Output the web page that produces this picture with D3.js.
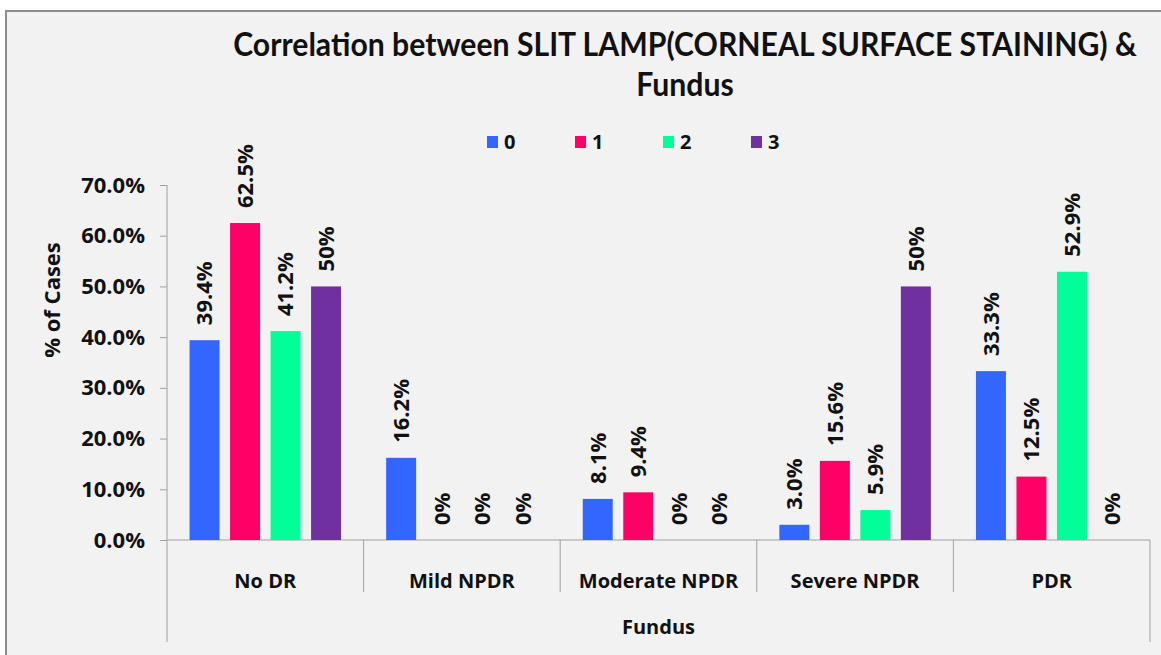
<!DOCTYPE html>
<html>
<head>
<meta charset="utf-8">
<script src="https://cdn.jsdelivr.net/npm/d3@7"></script>
<style>
  body { margin: 0; background: #fff; }
  text { font-family: "Open Sans", "Noto Sans", sans-serif; font-weight: bold; fill: #111; }
  text.title { font-family: Lato, "Open Sans", sans-serif; }
</style>
</head>
<body>
<svg id="chart" width="1161" height="655"></svg>
<script>
// data
const categories = ["No DR", "Mild NPDR", "Moderate NPDR", "Severe NPDR", "PDR"];
const seriesNames = ["0", "1", "2", "3"];
const series0 = [39.4, 16.2, 8.1, 3.0, 33.3];
const series1 = [62.5, 0, 9.4, 15.6, 12.5];
const series2 = [41.2, 0, 0, 5.9, 52.9];
const series3 = [50, 0, 0, 50, 0];
const labels0 = ["39.4%", "16.2%", "8.1%", "3.0%", "33.3%"];
const labels1 = ["62.5%", "0%", "9.4%", "15.6%", "12.5%"];
const labels2 = ["41.2%", "0%", "0%", "5.9%", "52.9%"];
const labels3 = ["50%", "0%", "0%", "50%", "0%"];
const yTicks = [0, 10, 20, 30, 40, 50, 60, 70];
const colors = ["#3366ff", "#ff0066", "#00ff99", "#7030a0"];

const allSeries = [series0, series1, series2, series3];
const allLabels = [labels0, labels1, labels2, labels3];

const svg = d3.select("#chart");

// chart area frame (only top and left edges are in the picture)
svg.append("rect")
  .attr("x", 6).attr("y", 11)
  .attr("width", 1170).attr("height", 660)
  .attr("fill", "#f2f2f2")
  .attr("stroke", "#8c8c8c")
  .attr("stroke-width", 2);

const plotLeft = 167, plotRight = 1150, base = 540, plotTop = 185;

const x0 = d3.scaleBand().domain(categories).range([plotLeft, plotRight]).padding(0);
const x1 = d3.scaleBand().domain(seriesNames).range([0, x0.bandwidth()])
  .paddingInner(0.26).paddingOuter(0.557);
const y = d3.scaleLinear().domain([0, 70]).range([base, plotTop]);

// title on two lines, squeezed sideways to look like the narrow original face
const t1 = svg.append("text")
  .attr("class", "title")
  .attr("text-anchor", "middle")
  .style("font-size", "33px")
  .text("Correlation between SLIT LAMP(CORNEAL SURFACE STAINING) &");
const k = 904 / t1.node().getComputedTextLength();
t1.attr("transform", `translate(685,56) scale(${k},1)`);
svg.append("text")
  .attr("class", "title")
  .attr("text-anchor", "middle")
  .attr("transform", `translate(685,96) scale(${k},1)`)
  .style("font-size", "33px")
  .text("Fundus");

// legend
const legend = svg.append("g").selectAll("g")
  .data(seriesNames)
  .join("g")
  .attr("transform", (d, i) => `translate(${487 + i * 88},136)`);
legend.append("rect")
  .attr("width", 11).attr("height", 12)
  .attr("fill", (d, i) => colors[i]);
legend.append("text")
  .attr("x", 17).attr("y", 13)
  .style("font-size", "20px")
  .text(d => d);

// y axis
const yAxis = svg.append("g")
  .attr("transform", `translate(${plotLeft},0)`)
  .call(d3.axisLeft(y).tickValues(yTicks).tickSize(7).tickPadding(15)
    .tickFormat(d => d.toFixed(1) + "%"));
yAxis.select(".domain").remove();
yAxis.selectAll(".tick line").attr("stroke", "#a0a0a0");
yAxis.selectAll(".tick text")
  .style("font-size", "22px")
  .attr("fill", "#111");
yAxis.attr("font-family", null).attr("font-size", null);

svg.append("text")
  .attr("transform", "translate(60,300) rotate(-90)")
  .attr("text-anchor", "middle")
  .style("font-size", "22px")
  .text("% of Cases");

// axis lines
const axisColor = "#a0a0a0";
svg.append("line")
  .attr("x1", plotLeft).attr("x2", plotLeft).attr("y1", y(70)).attr("y2", 642)
  .attr("stroke", axisColor);
svg.append("line")
  .attr("x1", plotLeft).attr("x2", plotRight).attr("y1", base).attr("y2", base)
  .attr("stroke", axisColor);
svg.append("line")
  .attr("x1", plotRight).attr("x2", plotRight).attr("y1", base).attr("y2", 642)
  .attr("stroke", axisColor);
svg.append("g").selectAll("line")
  .data(categories.slice(1))
  .join("line")
  .attr("x1", d => x0(d)).attr("x2", d => x0(d))
  .attr("y1", base).attr("y2", 592)
  .attr("stroke", axisColor);

svg.append("g").selectAll("text")
  .data(categories)
  .join("text")
  .attr("x", d => x0(d) + x0.bandwidth() / 2)
  .attr("y", 588)
  .attr("text-anchor", "middle")
  .style("font-size", "20px")
  .text(d => d);

svg.append("text")
  .attr("x", (plotLeft + plotRight) / 2).attr("y", 634)
  .attr("text-anchor", "middle")
  .style("font-size", "20px")
  .text("Fundus");

// bars
const groups = svg.append("g").selectAll("g")
  .data(categories)
  .join("g")
  .attr("transform", d => `translate(${x0(d)},0)`);

const cells = groups.selectAll("g")
  .data((c, ci) => seriesNames.map((s, si) => ({
    s: s, i: si, v: allSeries[si][ci], label: allLabels[si][ci]
  })))
  .join("g");

cells.append("rect")
  .attr("x", d => x1(d.s))
  .attr("y", d => y(d.v))
  .attr("width", x1.bandwidth())
  .attr("height", d => base - y(d.v))
  .attr("fill", d => colors[d.i]);

cells.append("text")
  .attr("transform", d => `translate(${x1(d.s) + x1.bandwidth() / 2},${y(d.v) - 15}) rotate(-90)`)
  .attr("dy", "0.36em")
  .style("font-size", "22px")
  .text(d => d.label);
</script>
</body>
</html>
